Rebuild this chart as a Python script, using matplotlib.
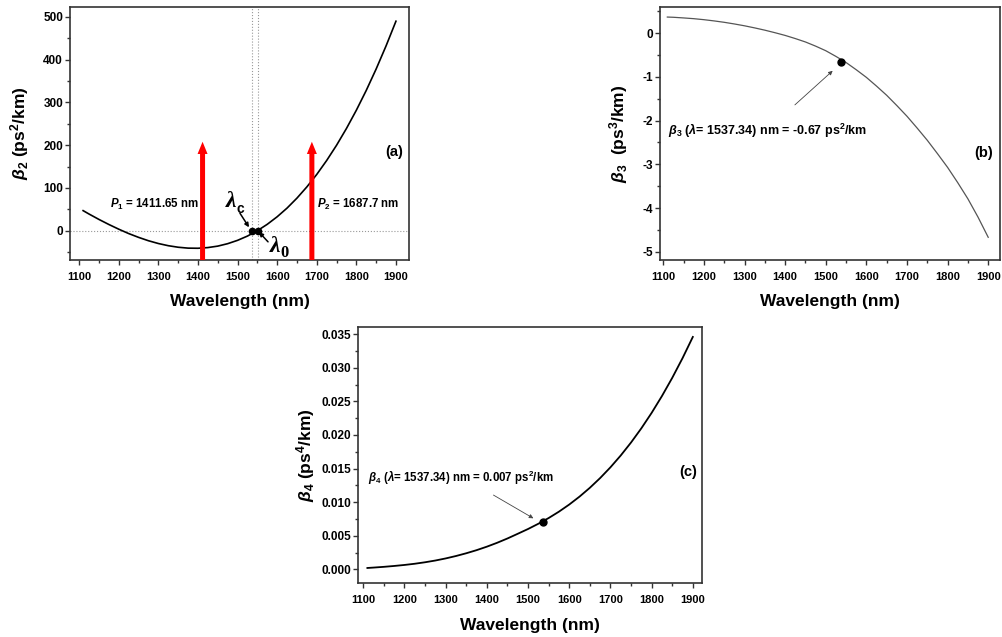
import matplotlib
matplotlib.use("Agg")
import matplotlib.pyplot as plt
from matplotlib.ticker import MultipleLocator, FormatStrFormatter

plt.rcParams.update({
    "font.family": ["Liberation Sans", "DejaVu Sans"],
    "font.weight": "bold",
    "mathtext.fontset": "custom",
    "mathtext.rm": "Liberation Sans:bold",
    "mathtext.it": "Liberation Sans:italic:bold",
    "mathtext.bf": "Liberation Sans:bold",
    "mathtext.sf": "Liberation Sans:bold",
    "axes.unicode_minus": False,
})

# wavelength grid (nm) and dispersion values
wavelength = [1110, 1125, 1150, 1175, 1200, 1225, 1250, 1275, 1300, 1325, 1350,
              1375, 1400, 1425, 1450, 1475, 1500, 1525, 1550, 1575, 1600, 1625,
              1650, 1675, 1700, 1725, 1750, 1775, 1800, 1825, 1850, 1875, 1900]
beta2 = [47, 39, 26.4, 14.6, 3.6, -6.6, -15.5, -23.4, -29.9, -35.0, -38.6,
         -40.7, -41.0, -39.4, -36.0, -30.3, -22.5, -12.5, 0, 15.0, 32.6, 52.9,
         76.2, 102.4, 131.6, 164.1, 199.8, 239.0, 281.7, 328.0, 378.1, 432.0, 489.8]
beta3 = [0.37, 0.365, 0.35, 0.333, 0.31, 0.282, 0.25, 0.212, 0.17, 0.122, 0.07,
         0.012, -0.05, -0.122, -0.20, -0.295, -0.40, -0.53, -0.67, -0.835, -1.01, -1.21,
         -1.42, -1.655, -1.90, -2.17, -2.45, -2.755, -3.07, -3.42, -3.79, -4.21, -4.67]
beta4 = [0.00020, 0.00026, 0.00037, 0.00050, 0.00065, 0.00083, 0.00105, 0.00131,
         0.00162, 0.00198, 0.00239, 0.00285, 0.00337, 0.00395, 0.00459, 0.00529,
         0.00600, 0.00678, 0.00763, 0.00858, 0.00964, 0.01082, 0.01213, 0.01358,
         0.01518, 0.01694, 0.01887, 0.02098, 0.02328, 0.02578, 0.02849, 0.03142, 0.03458]

pump_wl = [1411.65, 1687.7]
pump_top = 208
lambda_c = 1537.34
lambda_0 = 1551
beta3_c = -0.66
beta4_c = 0.007


def style(ax, xlim, ylim, ymajor, yminor, yfmt, ylabel, ylabelpad):
    ax.set_xlim(*xlim)
    ax.set_ylim(*ylim)
    ax.xaxis.set_major_locator(MultipleLocator(100))
    ax.xaxis.set_minor_locator(MultipleLocator(50))
    ax.yaxis.set_major_locator(MultipleLocator(ymajor))
    ax.yaxis.set_minor_locator(MultipleLocator(yminor))
    ax.yaxis.set_major_formatter(FormatStrFormatter(yfmt))
    ax.tick_params(which="both", direction="out", top=False, right=False,
                   width=1, color="#333")
    ax.tick_params(which="major", length=3.5)
    ax.tick_params(which="minor", length=2.2)
    ax.tick_params(axis="x", labelsize=8, pad=5)
    ax.tick_params(axis="y", labelsize=8.5, pad=1.5)
    for lab in ax.get_xticklabels() + ax.get_yticklabels():
        lab.set_fontweight("bold")
    for s in ax.spines.values():
        s.set_linewidth(1.2)
        s.set_color("#333")
    ax.set_xlabel("Wavelength (nm)", fontsize=12.5, fontweight="bold", labelpad=9)
    ax.set_ylabel(ylabel, fontsize=12.5, fontweight="bold", labelpad=ylabelpad)


def small_arrow(ax, head, tail, color="#444", lw=0.6):
    ax.annotate("", xy=head, xytext=tail,
                arrowprops=dict(arrowstyle="-|>", color=color, lw=lw,
                                mutation_scale=6, shrinkA=0, shrinkB=0))


fig = plt.figure(figsize=(10.02, 6.37), dpi=100)

# (a) beta2
ax1 = fig.add_axes([0.0699, 0.5918, 0.3383, 0.3972])
style(ax1, (1077, 1933), (-68.5, 523), 100, 50, "%d",
      r"$\beta_2$ (ps$^2$/km)", 9)
ax1.axhline(0, color="#999", lw=0.8, ls=":")
ax1.axvline(lambda_c, color="#999", lw=0.8, ls=":")
ax1.axvline(lambda_0, color="#999", lw=0.8, ls=":")
ax1.plot(wavelength, beta2, color="black", lw=1.2)
for wl in pump_wl:
    ax1.annotate("", xy=(wl, pump_top), xytext=(wl, -68.5),
                 arrowprops=dict(arrowstyle="simple,head_length=1.1,head_width=0.9,tail_width=0.45",
                                 color="red", mutation_scale=8, shrinkA=0, shrinkB=0, lw=0))
ax1.plot([lambda_c, lambda_0], [0, 0], "o", color="black", ms=4.5)
ax1.text(1178, 62, r"$P_1$ = 1411.65 nm", fontsize=8.3, va="center")
ax1.text(1701, 62, r"$P_2$ = 1687.7 nm", fontsize=8.3, va="center")
ax1.text(1918, 184, "(a)", fontsize=10.5, ha="right", va="center")

ax1.text(1483, 68, "λ", family="Liberation Serif", style="italic", weight="bold",
         fontsize=17, ha="center", va="center")
ax1.annotate("c", xy=(1483, 68), xytext=(7, -5), textcoords="offset points",
             fontsize=10, weight="bold", ha="center", va="center")
small_arrow(ax1, (1529, 8), (1506, 41), color="black", lw=1.1)

ax1.text(1595, -37, "λ", family="Liberation Serif", style="italic", weight="bold",
         fontsize=17, ha="center", va="center")
ax1.annotate("0", xy=(1595, -37), xytext=(6.5, -4.5), textcoords="offset points",
             family="Liberation Serif", fontsize=12, ha="center", va="center")
small_arrow(ax1, (1554, -3), (1577, -26), color="black", lw=1.1)

# (b) beta3
ax2 = fig.add_axes([0.6587, 0.5918, 0.3393, 0.3972])
style(ax2, (1092, 1929), (-5.19, 0.6), 1, 0.5, "%d",
      r"$\beta_3$  (ps$^3$/km)", 9)
ax2.plot(wavelength, beta3, color="#555", lw=0.9)
ax2.plot([lambda_c], [beta3_c], "o", color="black", ms=5)
small_arrow(ax2, (1517, -0.86), (1424, -1.64))
ax2.text(1112, -2.23, r"$\beta_3$ ($\lambda$= 1537.34) nm = -0.67 ps$^2$/km",
         fontsize=9, va="center")
ax2.text(1912, -2.74, "(b)", fontsize=10.5, ha="right", va="center")

# (c) beta4
ax3 = fig.add_axes([0.3576, 0.0843, 0.3433, 0.4028])
style(ax3, (1088, 1923), (-0.00208, 0.0361), 0.005, 0.0025, "%.3f",
      r"$\beta_4$ (ps$^4$/km)", 3)
ax3.plot(wavelength, beta4, color="black", lw=1.3)
ax3.plot([lambda_c], [beta4_c], "o", color="black", ms=5)
small_arrow(ax3, (1513, 0.00759), (1416, 0.01105))
ax3.text(1111, 0.01366, r"$\beta_4$ ($\lambda$= 1537.34) nm = 0.007 ps$^2$/km",
         fontsize=8.3, va="center")
ax3.text(1910, 0.01452, "(c)", fontsize=10.5, ha="right", va="center")

fig.savefig("out.png", dpi=100)
